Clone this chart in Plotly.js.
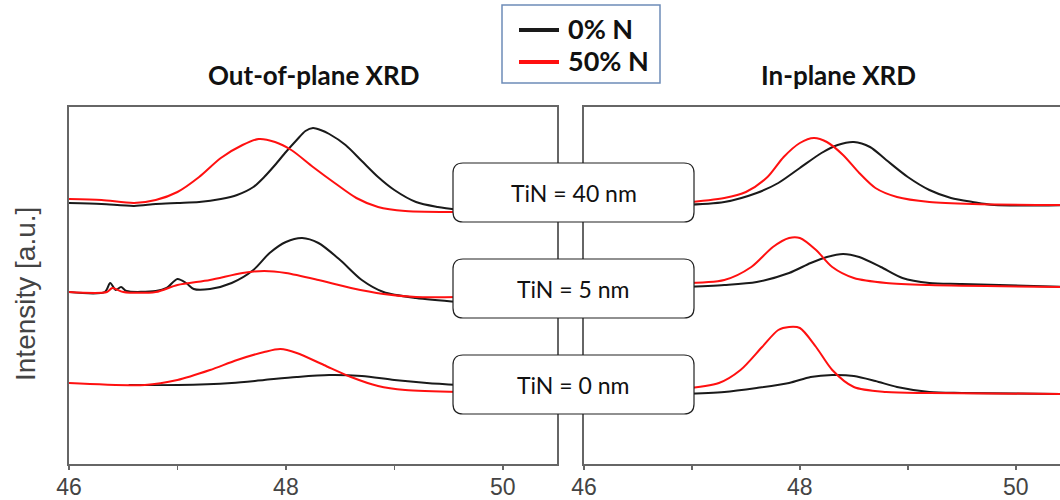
<!DOCTYPE html>
<html><head><meta charset="utf-8">
<script src="https://cdn.plot.ly/plotly-3.0.1.min.js"></script>
<style>body{margin:0;background:#fff}#chart{width:1060px;height:500px}</style>
</head><body><div id="chart"></div>
<script>
// ---- Data (2θ in degrees, intensity in arbitrary units incl. stacking offset) ----
const seriesNames = ['0% N', '50% N'];
const thicknessLabels = ['TiN = 40 nm', 'TiN = 5 nm', 'TiN = 0 nm'];
const panelTitles = ['Out-of-plane XRD', 'In-plane XRD'];
const tickVals = [46, 47, 48, 49, 50];
const tickText = ['46', '', '48', '', '50'];

// Out-of-plane, TiN = 40 nm
const oop40_0_x = [46.0, 46.3, 46.6, 46.8, 47.0, 47.2, 47.4, 47.55, 47.7, 47.8, 47.9, 48.0, 48.1, 48.18, 48.25, 48.32, 48.4, 48.55, 48.7, 48.85, 49.0, 49.2, 49.4, 49.6];
const oop40_0_y = [261, 260, 258, 260, 261, 262, 265, 269, 277, 287, 299, 312, 324, 333, 336, 334, 330, 319, 303, 287, 274, 262, 257, 254];
const oop40_50_x = [46.0, 46.3, 46.6, 46.8, 47.0, 47.2, 47.4, 47.6, 47.75, 47.9, 48.05, 48.25, 48.45, 48.65, 48.85, 49.1, 49.6];
const oop40_50_y = [265, 264, 261, 264, 272, 287, 306, 319, 325, 322, 314, 297, 281, 266, 257, 253, 252];
// Out-of-plane, TiN = 5 nm
const oop5_0_x = [46.0, 46.33, 46.38, 46.43, 46.48, 46.53, 46.8, 46.9, 47.0, 47.08, 47.15, 47.3, 47.5, 47.7, 47.85, 48.0, 48.15, 48.3, 48.5, 48.7, 48.9, 49.2, 49.6];
const oop5_0_y = [172, 172, 181, 174, 177, 173, 173, 176, 185, 181, 175, 175, 181, 194, 211, 222, 226, 221, 204, 184, 172, 166, 162];
const oop5_50_x = [46.0, 46.35, 46.4, 46.5, 46.8, 47.0, 47.3, 47.6, 47.8, 48.0, 48.3, 48.6, 48.9, 49.2, 49.6];
const oop5_50_y = [172, 172, 176, 172, 172, 179, 184, 191, 193, 191, 184, 176, 170, 167, 167];
// Out-of-plane, TiN = 0 nm
const oop0_0_x = [46.55, 47.0, 47.5, 47.8, 48.1, 48.4, 48.7, 49.0, 49.3, 49.6];
const oop0_0_y = [79, 79, 81, 84, 87, 89, 88, 84, 81, 79];
const oop0_50_x = [46.0, 46.7, 47.0, 47.3, 47.55, 47.8, 47.95, 48.1, 48.35, 48.6, 48.85, 49.1, 49.6];
const oop0_50_y = [81, 79, 84, 94, 104, 112, 115, 111, 99, 87, 78, 74, 72];

// In-plane, TiN = 40 nm
const ip40_0_x = [46.9, 47.3, 47.6, 47.8, 48.0, 48.2, 48.35, 48.5, 48.65, 48.8, 49.0, 49.2, 49.4, 49.6, 49.8, 50.5];
const ip40_0_y = [259, 262, 271, 281, 296, 311, 319, 322, 317, 304, 287, 274, 266, 262, 259, 259];
const ip40_50_x = [46.9, 47.3, 47.5, 47.7, 47.85, 48.0, 48.13, 48.25, 48.4, 48.55, 48.7, 48.9, 49.2, 49.6, 50.5];
const ip40_50_y = [261, 266, 272, 287, 307, 321, 326, 322, 309, 291, 276, 267, 262, 260, 259];
// In-plane, TiN = 5 nm
const ip5_0_x = [46.9, 47.3, 47.6, 47.9, 48.1, 48.25, 48.4, 48.55, 48.75, 48.95, 49.2, 49.5, 50.5];
const ip5_0_y = [177, 179, 182, 191, 201, 207, 210, 207, 197, 186, 181, 180, 177];
const ip5_50_x = [46.9, 47.3, 47.55, 47.75, 47.9, 48.0, 48.15, 48.3, 48.5, 48.8, 49.2, 50.5];
const ip5_50_y = [181, 184, 197, 217, 226, 226, 214, 197, 186, 181, 179, 177];
// In-plane, TiN = 0 nm
const ip0_0_x = [46.9, 47.3, 47.6, 47.9, 48.1, 48.3, 48.5, 48.7, 48.9, 49.2, 49.5, 50.5];
const ip0_0_y = [70, 72, 76, 81, 87, 89, 88, 83, 77, 72, 71, 70];
const ip0_50_x = [46.9, 47.25, 47.45, 47.65, 47.8, 47.9, 48.0, 48.15, 48.3, 48.5, 48.8, 49.2, 50.5];
const ip0_50_y = [75, 81, 94, 117, 134, 137, 136, 117, 94, 77, 72, 71, 70];

// ---- Styling ----
const colors = ['#1a1a1a', '#ff1010'];
const W = 1060, H = 500;
const px = v => v / W, py = v => 1 - v / H;

function tr(x, y, ci, ax) {
  return {x: x, y: y, type: 'scatter', mode: 'lines', line: {color: colors[ci], width: 2, shape: 'spline', smoothing: 0.8},
          xaxis: ax === 1 ? 'x' : 'x2', yaxis: ax === 1 ? 'y' : 'y2', showlegend: false, hoverinfo: 'skip'};
}
const data = [
  tr(oop40_0_x, oop40_0_y, 0, 1), tr(oop40_50_x, oop40_50_y, 1, 1),
  tr(oop5_0_x, oop5_0_y, 0, 1), tr(oop5_50_x, oop5_50_y, 1, 1),
  tr(oop0_0_x, oop0_0_y, 0, 1), tr(oop0_50_x, oop0_50_y, 1, 1),
  tr(ip40_0_x, ip40_0_y, 0, 2), tr(ip40_50_x, ip40_50_y, 1, 2),
  tr(ip5_0_x, ip5_0_y, 0, 2), tr(ip5_50_x, ip5_50_y, 1, 2),
  tr(ip0_0_x, ip0_0_y, 0, 2), tr(ip0_50_x, ip0_50_y, 1, 2)
];

const axisCommon = {
  tickvals: tickVals, ticktext: tickText, ticks: 'outside', ticklen: 4, tickwidth: 1.5, tickcolor: '#666',
  ticklabelstandoff: -3,
  showline: true, linecolor: '#666', linewidth: 2, mirror: true, showgrid: false, zeroline: false,
  tickfont: {family: '"Liberation Sans Narrow", "Arial Narrow", "Liberation Sans", sans-serif', size: 23, color: '#444'}
};
const yCommon = {range: [0, 357], showticklabels: false, ticks: '', showgrid: false, zeroline: false,
  showline: true, linecolor: '#666', linewidth: 2, domain: [py(464), py(107)]};

const shapes = [];
const annotations = [];
// rounded label boxes
const boxX0 = 453, boxX1 = 694, boxTops = [163, 259, 355], boxH = 59, r = 10;
boxTops.forEach((t, i) => {
  const x0 = boxX0, x1 = boxX1, y0 = t, y1 = t + boxH;
  const P = (x, y) => px(x).toFixed(5) + ',' + py(y).toFixed(5);
  const path = 'M ' + P(x0 + r, y0) + ' L ' + P(x1 - r, y0) + ' Q ' + P(x1, y0) + ' ' + P(x1, y0 + r) +
    ' L ' + P(x1, y1 - r) + ' Q ' + P(x1, y1) + ' ' + P(x1 - r, y1) +
    ' L ' + P(x0 + r, y1) + ' Q ' + P(x0, y1) + ' ' + P(x0, y1 - r) +
    ' L ' + P(x0, y0 + r) + ' Q ' + P(x0, y0) + ' ' + P(x0 + r, y0) + ' Z';
  shapes.push({type: 'path', xref: 'paper', yref: 'paper', path: path, fillcolor: '#ffffff',
    line: {color: '#222', width: 1.2}, layer: 'above'});
  annotations.push({xref: 'paper', yref: 'paper', x: px((x0 + x1) / 2), y: py(t + boxH / 2), text: thicknessLabels[i],
    showarrow: false, xanchor: 'center', yanchor: 'middle', font: {family: 'Lato, "Open Sans", sans-serif', size: 23, color: '#111'}});
});
// legend box
shapes.push({type: 'rect', xref: 'paper', yref: 'paper', x0: px(502), x1: px(660), y0: py(83), y1: py(5),
  line: {color: '#6d8cb8', width: 1.5}, fillcolor: 'rgba(0,0,0,0)', layer: 'above'});
[30, 62].forEach((yy, i) => {
  shapes.push({type: 'line', xref: 'paper', yref: 'paper', x0: px(519), x1: px(559), y0: py(yy), y1: py(yy),
    line: {color: colors[i], width: 4}, layer: 'above'});
  annotations.push({xref: 'paper', yref: 'paper', x: px(566), y: py(yy - 2), text: '<b>' + seriesNames[i] + '</b>',
    showarrow: false, xanchor: 'left', yanchor: 'middle', font: {family: 'Lato, "Open Sans", sans-serif', size: 27, color: '#111'}});
});
// panel titles
annotations.push({xref: 'paper', yref: 'paper', x: px(314), y: py(75), text: '<b>' + panelTitles[0] + '</b>', showarrow: false,
  xanchor: 'center', yanchor: 'middle', font: {family: 'Lato, "Open Sans", sans-serif', size: 26, color: '#111'}});
annotations.push({xref: 'paper', yref: 'paper', x: px(838), y: py(75), text: '<b>' + panelTitles[1] + '</b>', showarrow: false,
  xanchor: 'center', yanchor: 'middle', font: {family: 'Lato, "Open Sans", sans-serif', size: 26, color: '#111'}});
// y axis title
annotations.push({xref: 'paper', yref: 'paper', x: px(25), y: py(294), text: 'Intensity [a.u.]', showarrow: false, textangle: -90,
  xanchor: 'center', yanchor: 'middle', font: {family: '"Liberation Sans", Arial, sans-serif', size: 28, color: '#444'}});

const layout = {
  width: W, height: H, margin: {l: 0, r: 0, t: 0, b: 0}, paper_bgcolor: '#fff', plot_bgcolor: '#fff', showlegend: false,
  xaxis: Object.assign({}, axisCommon, {domain: [px(69), px(557)], range: [46, 50.5], anchor: 'y'}),
  yaxis: Object.assign({}, yCommon, {anchor: 'x', mirror: true}),
  xaxis2: Object.assign({}, axisCommon, {domain: [px(584), 1], range: [46, 50.41], anchor: 'y2'}),
  yaxis2: Object.assign({}, yCommon, {anchor: 'x2', mirror: false}),
  shapes: shapes, annotations: annotations
};
Plotly.newPlot('chart', data, layout, {staticPlot: true, displayModeBar: false});
</script></body></html>
